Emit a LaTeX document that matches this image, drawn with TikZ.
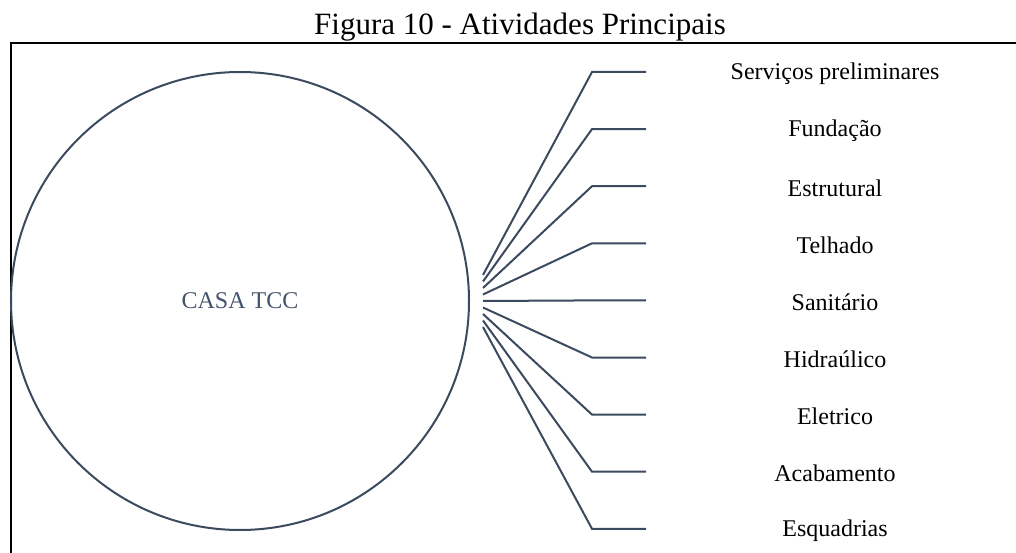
\documentclass[tikz,border=0pt]{standalone}
\usepackage{fontspec}
\setmainfont{Liberation Serif}
\usetikzlibrary{positioning, calc}
\definecolor{slate}{HTML}{44546A}
\definecolor{slateline}{HTML}{3B4A5E}

\begin{document}
\begin{tikzpicture}[x=1pt, y=-1pt,
		ramo/.style={line width=2pt, color=slateline},
		rotulo/.style={font=\fontsize{24}{28}\selectfont, anchor=center}]
		\useasboundingbox (0,0) rectangle (1016,553);
		\node[font=\fontsize{31}{36}\selectfont, anchor=base] (titulo) at (520,35) {Figura 10 - Atividades Principais};
		\draw[line width=2.5pt] (1016,43) -- (11,43) -- (11,553);
		\node[circle, draw=slateline, line width=2pt, minimum size=458pt, inner sep=0pt, text=slate, font=\fontsize{24}{28}\selectfont] (casa) at (240,301) {CASA TCC};
		\foreach \i/\nome in {0/Serviços preliminares, 1/Fundação, 2/Estrutural, 3/Telhado, 4/Sanitário, 5/Hidraúlico, 6/Eletrico, 7/Acabamento, 8/Esquadrias} {
			\coordinate (ini\i) at (483, 275+6.5*\i);
			\coordinate (dobra\i) at (592, 72+57.1*\i);
			\coordinate (fim\i) at (646, 72+57.1*\i);
			\node[rotulo] (ativ\i) at (835, 74+57.1*\i) {\nome};
			\draw[ramo] (ini\i) -- (dobra\i) -- (fim\i);
		}
	\end{tikzpicture}
\end{document}
